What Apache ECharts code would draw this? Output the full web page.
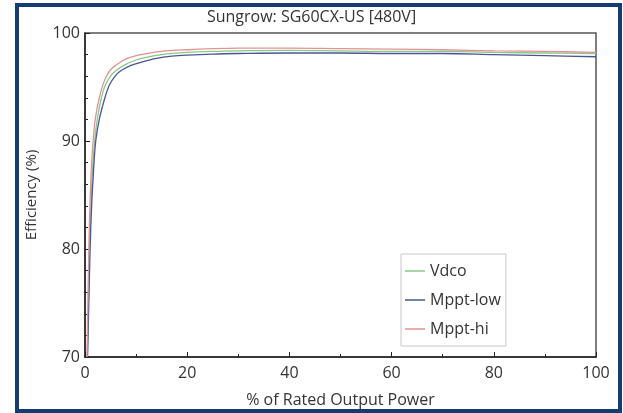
<!DOCTYPE html>
<html>
<head>
<meta charset="utf-8">
<script src="https://cdn.jsdelivr.net/npm/echarts@6/dist/echarts.min.js"></script>
<style>
    html, body { margin: 0; padding: 0; background: #fff; }
    #main { width: 623px; height: 413px; }
</style>
</head>
<body>
<div id="main"></div>
<script>
var titleText = 'Sungrow: SG60CX-US [480V]';
var seriesNames = ['Vdco', 'Mppt-low', 'Mppt-hi'];

// % of rated output power / efficiency
var pctVdco = [0.45, 0.7, 0.9, 1.2, 1.5, 1.9, 2.4, 3.2, 4, 5, 6, 8, 10, 12, 15, 20, 25, 30, 40, 50, 60, 70, 80, 90, 100];
var effVdco = [70, 76, 80.5, 84.5, 87.5, 90, 92, 94, 95.2, 96, 96.5, 97.1, 97.5, 97.75, 98.0, 98.2, 98.3, 98.35, 98.4, 98.35, 98.3, 98.3, 98.2, 98.15, 98.1];

var pctLow = [0.5, 0.8, 1.0, 1.3, 1.7, 2.1, 2.8, 3.9, 4.8, 5.9, 7, 9, 11, 14, 17, 20, 25, 30, 40, 50, 60, 70, 80, 90, 100];
var effLow = [70, 76, 80, 84, 87.5, 90, 92, 94, 95.2, 96, 96.5, 97.0, 97.3, 97.65, 97.85, 97.95, 98.05, 98.1, 98.15, 98.15, 98.1, 98.1, 98.0, 97.9, 97.8];

var pctHi = [0.4, 0.6, 0.8, 1.0, 1.3, 1.6, 2, 2.8, 3.5, 4.2, 5, 6, 8, 10, 12, 15, 20, 25, 30, 40, 50, 60, 70, 80, 90, 100];
var effHi = [70, 76, 81, 84.5, 88, 90, 92, 94, 95.2, 96, 96.6, 97.0, 97.6, 97.9, 98.1, 98.3, 98.45, 98.55, 98.6, 98.6, 98.55, 98.5, 98.45, 98.35, 98.3, 98.2];

var colors = ['#86c986', '#4a5597', '#e49191'];

function pairs(xs, ys) {
    var out = [];
    for (var i = 0; i < xs.length; i++) out.push([xs[i], ys[i]]);
    return out;
}

var myChart = echarts.init(document.getElementById('main'));
var font = 'Open Sans';

function line(name, xs, ys, color) {
    return {
        name: name,
        type: 'line',
        data: pairs(xs, ys),
        showSymbol: false,
        smooth: 0.35,
        lineStyle: { color: color, width: 1.3 },
        itemStyle: { color: color }
    };
}

var option = {
    animation: false,
    backgroundColor: '#fff',
    color: colors,
    title: {
        text: titleText,
        left: 'center',
        top: 4,
        textStyle: { fontFamily: font, fontSize: 16, fontWeight: 'normal', color: '#333' }
    },
    graphic: [{
        type: 'rect',
        shape: { x: 17, y: 5, width: 603, height: 406 },
        style: { fill: null, stroke: '#123c72', lineWidth: 4 },
        silent: true
    }],
    legend: {
        orient: 'vertical',
        left: 401,
        top: 254,
        data: seriesNames,
        icon: 'rect',
        itemWidth: 20,
        itemHeight: 1.5,
        itemGap: 13,
        padding: [9, 5, 9, 4],
        borderColor: '#c8c8c8',
        borderWidth: 1,
        backgroundColor: '#fff',
        textStyle: { fontFamily: font, fontSize: 16, color: '#333' }
    },
    grid: {
        left: 85,
        right: 27,
        top: 33,
        bottom: 51,
        show: true,
        borderColor: '#555',
        borderWidth: 1.5
    },
    xAxis: {
        type: 'value',
        min: 0,
        max: 100,
        interval: 20,
        name: '% of Rated Output Power',
        nameLocation: 'middle',
        nameGap: 35,
        nameTextStyle: { fontFamily: font, fontSize: 16, color: '#333' },
        axisLine: { lineStyle: { color: '#222', width: 1.5 } },
        axisTick: { inside: true, length: 5, lineStyle: { color: '#222' } },
        minorTick: { show: true, splitNumber: 2, length: 3, lineStyle: { color: '#222' } },
        splitLine: { show: false },
        axisLabel: { fontFamily: font, fontSize: 16, color: '#333', margin: 8 }
    },
    yAxis: {
        type: 'value',
        min: 70,
        max: 100,
        interval: 10,
        name: 'Efficiency (%)',
        nameLocation: 'middle',
        nameGap: 46,
        nameTextStyle: { fontFamily: font, fontSize: 15, color: '#333' },
        axisLine: { show: true, lineStyle: { color: '#222', width: 1.5 } },
        axisTick: { show: true, inside: true, length: 5, lineStyle: { color: '#222' } },
        minorTick: { show: true, splitNumber: 5, length: 3, lineStyle: { color: '#222' } },
        splitLine: { show: false },
        axisLabel: { fontFamily: font, fontSize: 16, color: '#333', margin: 5 }
    },
    series: [
        line(seriesNames[0], pctVdco, effVdco, colors[0]),
        line(seriesNames[1], pctLow, effLow, colors[1]),
        line(seriesNames[2], pctHi, effHi, colors[2])
    ]
};
myChart.setOption(option);
window.addEventListener('resize', function () {
    myChart.resize();
});
</script>
</body>
</html>
